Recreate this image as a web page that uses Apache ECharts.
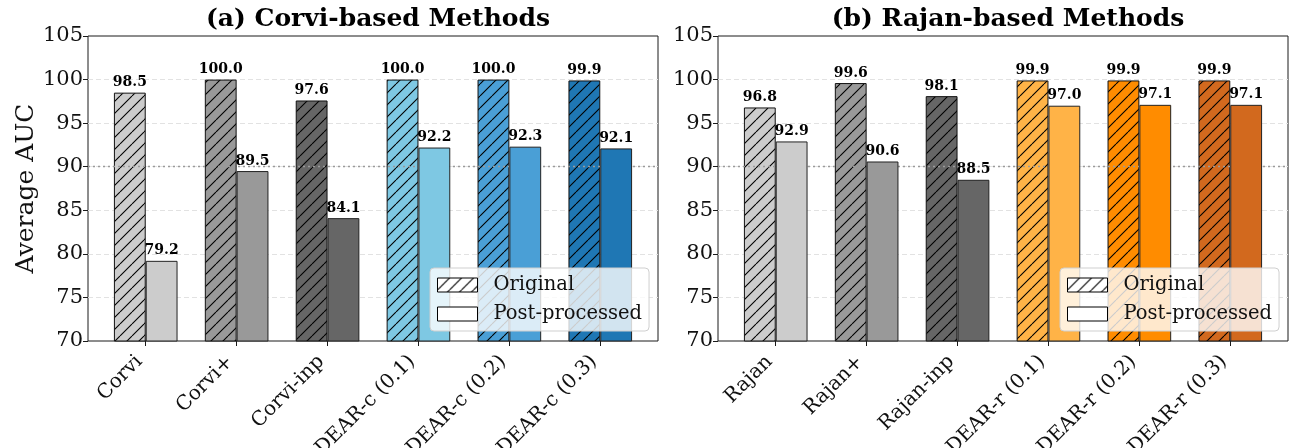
<!DOCTYPE html>
<html>
<head>
<meta charset="utf-8">
<script src="https://cdn.jsdelivr.net/npm/echarts@6/dist/echarts.min.js"></script>
<style>
  html, body { margin: 0; padding: 0; background: #fff; }
  #chart { width: 1289px; height: 448px; }
</style>
</head>
<body>
<div id="chart"></div>
<script>
// ---- data ----
const corviCategories = ['Corvi', 'Corvi+', 'Corvi-inp', 'DEAR-c (0.1)', 'DEAR-c (0.2)', 'DEAR-c (0.3)'];
const corviOriginal = [98.5, 100.0, 97.6, 100.0, 100.0, 99.9];
const corviPost = [79.2, 89.5, 84.1, 92.2, 92.3, 92.1];
const corviColors = ['#cccccc', '#999999', '#666666', '#7ec8e3', '#4a9fd6', '#1f77b4'];

const rajanCategories = ['Rajan', 'Rajan+', 'Rajan-inp', 'DEAR-r (0.1)', 'DEAR-r (0.2)', 'DEAR-r (0.3)'];
const rajanOriginal = [96.8, 99.6, 98.1, 99.9, 99.9, 99.9];
const rajanPost = [92.9, 90.6, 88.5, 97.0, 97.1, 97.1];
const rajanColors = ['#cccccc', '#999999', '#666666', '#ffb347', '#ff8c00', '#d2691e'];

const panelTitles = ['(a) Corvi-based Methods', '(b) Rajan-based Methods'];
const seriesNames = ['Original', 'Post-processed'];
const yMin = 70, yMax = 105, yStep = 5;
const referenceLine = 90;

// ---- helpers ----
const SERIF = 'DejaVu Serif';

// diagonal "//" hatch over a base colour
function hatch(base) {
  const s = 12;
  const c = document.createElement('canvas');
  c.width = s; c.height = s;
  const ctx = c.getContext('2d');
  ctx.fillStyle = base;
  ctx.fillRect(0, 0, s, s);
  ctx.strokeStyle = '#000';
  ctx.lineWidth = 1.1;
  ctx.beginPath();
  for (let k = -1; k <= 1; k++) {
    ctx.moveTo(k * s, s);
    ctx.lineTo(k * s + s, 0);
  }
  ctx.stroke();
  return { image: c, repeat: 'repeat' };
}

// panel geometry (pixels)
const frameTop = 36, frameHeight = 305, frameWidth = 570;
const frameLefts = [88, 718];
const unit = frameWidth / 6.27;             // one category step
const barInset = (0.635 - 0.5) * unit;      // margin outside the outer categories
const barWidth = 0.35 * unit;

const panels = [
  { cats: corviCategories, orig: corviOriginal, post: corviPost, colors: corviColors },
  { cats: rajanCategories, orig: rajanOriginal, post: rajanPost, colors: rajanColors }
];

const grid = [], xAxis = [], yAxis = [], series = [], legend = [], title = [];

panels.forEach((p, i) => {
  const fl = frameLefts[i];
  // frame grid: border, y ticks, gridlines
  grid.push({
    left: fl, top: frameTop, width: frameWidth, height: frameHeight,
    outerBoundsMode: 'none', containLabel: false,
    show: true, borderColor: '#1a1a1a', borderWidth: 1, backgroundColor: 'transparent'
  });
  // bar grid: the six categories
  grid.push({
    left: fl + barInset, top: frameTop, width: 6 * unit, height: frameHeight,
    outerBoundsMode: 'none', containLabel: false
  });
  const fg = 2 * i, bg = 2 * i + 1;

  xAxis.push({ gridIndex: fg, type: 'value', min: 0, max: 1, show: false });
  xAxis.push({
    gridIndex: bg, type: 'category', data: p.cats,
    axisLine: { show: false },
    axisTick: { show: true, alignWithLabel: true, length: 5, lineStyle: { color: '#1a1a1a', width: 1 } },
    axisLabel: {
      rotate: 45, margin: 24, interval: 0, align: 'right', verticalAlign: 'bottom',
      lineHeight: 18, fontFamily: SERIF, fontSize: 20, color: '#111'
    }
  });

  yAxis.push({
    gridIndex: fg, type: 'value', min: yMin, max: yMax, interval: yStep,
    name: i === 0 ? 'Average AUC' : '',
    nameLocation: 'middle', nameGap: 47, nameRotate: 90,
    nameTextStyle: { fontFamily: SERIF, fontSize: 25, color: '#111' },
    axisLine: { show: false },
    axisTick: { show: true, length: 5, lineStyle: { color: '#1a1a1a' } },
    axisLabel: { fontFamily: SERIF, fontSize: 21, color: '#111', margin: 5 },
    splitLine: {
      show: true, showMinLine: false, showMaxLine: false,
      lineStyle: { color: '#e2e2e2', type: [5, 3], width: 1 }
    }
  });
  yAxis.push({ gridIndex: bg, type: 'value', min: yMin, max: yMax, show: false });

  const labelStyle = {
    show: true, position: 'top', distance: 3,
    fontFamily: SERIF, fontWeight: 'bold', fontSize: 14, color: '#000',
    formatter: (d) => d.value.toFixed(1)
  };

  series.push({
    name: seriesNames[0], type: 'bar', xAxisIndex: bg, yAxisIndex: bg,
    barWidth: barWidth, barGap: '0%', z: 2,
    itemStyle: { color: hatch('#ffffff'), borderColor: '#111', borderWidth: 1 },
    label: labelStyle,
    data: p.orig.map((v, k) => ({ value: v, itemStyle: { color: hatch(p.colors[k]) } }))
  });
  // dotted reference line at 90, drawn over the hatched bars and under the plain ones
  series.push({
    type: 'line', xAxisIndex: fg, yAxisIndex: fg, data: [], silent: true, z: 3,
    markLine: {
      z: 3, silent: true, symbol: ['none', 'none'], label: { show: false },
      lineStyle: { color: '#9a9a9a', type: [2, 3], width: 1.3 },
      data: [{ yAxis: referenceLine }]
    }
  });
  series.push({
    name: seriesNames[1], type: 'bar', xAxisIndex: bg, yAxisIndex: bg,
    barWidth: barWidth, barGap: '0%', z: 4,
    itemStyle: { color: '#ffffff', borderColor: '#222', borderWidth: 1 },
    label: labelStyle,
    data: p.post.map((v, k) => ({ value: v, itemStyle: { color: p.colors[k] } }))
  });

  legend.push({
    data: seriesNames, orient: 'vertical', z: 20,
    left: fl + frameWidth - 228, top: 268,
    padding: [5, 7, 5, 7], itemGap: 5,
    itemWidth: 40, itemHeight: 14, icon: 'rect',
    backgroundColor: 'rgba(255,255,255,0.8)', borderColor: '#cfcfcf', borderWidth: 1, borderRadius: 4,
    selectedMode: false,
    itemStyle: { borderColor: '#000', borderWidth: 1 },
    textStyle: { fontFamily: SERIF, fontSize: 19.5, color: '#111', lineHeight: 24, padding: [0, 0, 0, 11] }
  });

  title.push({
    text: panelTitles[i], left: fl + frameWidth / 2, top: 2, textAlign: 'center',
    textStyle: { fontFamily: SERIF, fontWeight: 'bold', fontSize: 25, color: '#000' }
  });
});

const chart = echarts.init(document.getElementById('chart'), null, { renderer: 'canvas' });
chart.setOption({
  animation: false,
  backgroundColor: '#ffffff',
  title, grid, xAxis, yAxis, series, legend
});
</script>
</body>
</html>
